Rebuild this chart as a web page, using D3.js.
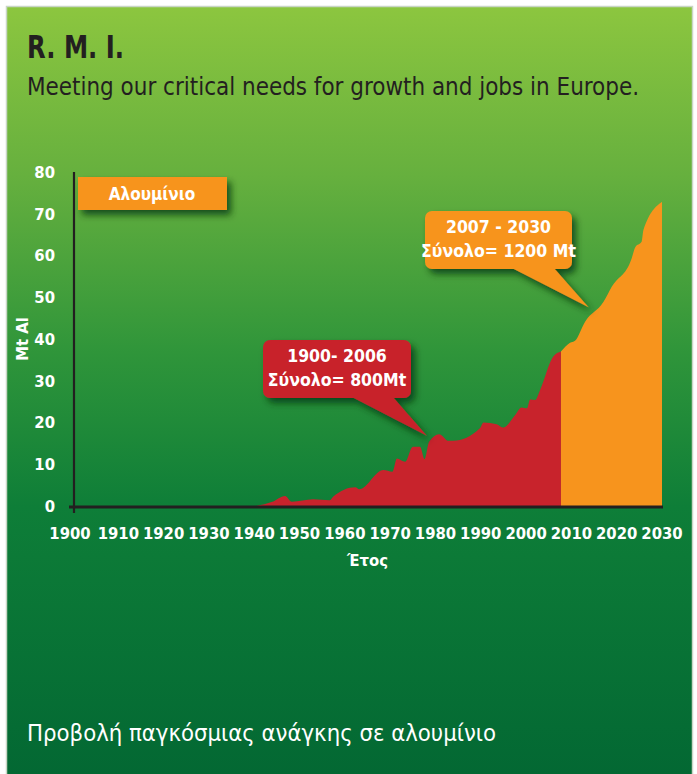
<!DOCTYPE html>
<html>
<head>
<meta charset="utf-8">
<script src="https://cdn.jsdelivr.net/npm/d3@7"></script>
<style>
  html, body { margin: 0; padding: 0; background: #ffffff; }
  svg text { font-family: "Liberation Sans Narrow", "DejaVu Sans Condensed", "Open Sans", sans-serif; }
</style>
</head>
<body>
<div id="chart"></div>
<script>
// Data (Mt Al per year)
const historyYears = [1940.5, 1944, 1946.8, 1948.3, 1953, 1956.7, 1957.4, 1962.3, 1963.2, 1968.5, 1970.5, 1971.5, 1973.3, 1975, 1976.6, 1977.6, 1978.6, 1980.8, 1982.9, 1983.9, 1989.8, 1990.6, 1993.5, 1995, 1997.6, 1999, 2000.2, 2000.9, 2002, 2003.1, 2006, 2007.7]
const historyValues = [0, 1.0, 2.4, 1.0, 1.6, 1.4, 2.2, 4.5, 4.0, 8.6, 8.2, 11.4, 10.6, 14.2, 14.2, 11.2, 15.4, 17.2, 15.6, 15.6, 18.6, 20.0, 19.6, 18.8, 21.8, 23.6, 23.4, 25.5, 25.4, 27.8, 35.8, 37.0]
const projectionYears = [2007.7, 2009.7, 2010.8, 2013, 2017.1, 2018.9, 2023.3, 2024.1, 2025.5, 2025.9, 2030]
const projectionValues = [37.0, 39.1, 39.6, 44.1, 48.9, 52.5, 59.3, 62.0, 63.3, 66.1, 72.9]

const xTicks = [1900, 1910, 1920, 1930, 1940, 1950, 1960, 1970, 1980, 1990, 2000, 2010, 2020, 2030]
const yTicks = [0, 10, 20, 30, 40, 50, 60, 70, 80]

const seriesName = 'Αλουμίνιο'
const calloutLines = [['1900- 2006', 'Σύνολο= 800Mt'], ['2007 - 2030', 'Σύνολο= 1200 Mt']]
const calloutTips = [[1978.1, 16.8], [2013.8, 47.6]]

// Chart size
const width = 697
const height = 774

const red = '#c8232c'
const orange = '#f7941d'
const ink = '#231f20'

let svg = d3.select('#chart')
	.append('svg')
	.attr('width', width)
	.attr('height', height)

let defs = svg.append('defs')
let grad = defs.append('linearGradient')
	.attr('id', 'bg')
	.attr('x1', 0).attr('y1', 0).attr('x2', 0).attr('y2', 1)
const stops = [[0, '#8cc63f'], [0.22, '#66b03e'], [0.45, '#2f953a'], [0.65, '#0e7e38'], [1, '#036833']]
stops.forEach((s) => {
	grad.append('stop').attr('offset', s[0]).attr('stop-color', s[1])
})
let shadow = defs.append('filter')
	.attr('id', 'shadow')
	.attr('x', '-20%').attr('y', '-20%').attr('width', '150%').attr('height', '160%')
shadow.append('feDropShadow')
	.attr('dx', 4).attr('dy', 5)
	.attr('stdDeviation', 3.5)
	.attr('flood-color', '#06300f')
	.attr('flood-opacity', 0.75)

// Panel
svg.append('rect')
	.attr('x', 6.5).attr('y', 6.5)
	.attr('width', 686).attr('height', 770)
	.attr('fill', 'url(#bg)')
	.attr('stroke', '#c9d6c6')
	.attr('stroke-width', 1.5)

// Titles
svg.append('text')
	.attr('x', 27).attr('y', 58)
	.attr('font-size', 32)
	.attr('font-weight', 'bold')
	.attr('fill', ink)
	.attr('textLength', 97)
	.attr('lengthAdjust', 'spacingAndGlyphs')
	.text('R. M. I.')
svg.append('text')
	.attr('x', 27).attr('y', 95)
	.attr('font-size', 24)
	.attr('fill', ink)
	.attr('textLength', 612)
	.attr('lengthAdjust', 'spacingAndGlyphs')
	.text('Meeting our critical needs for growth and jobs in Europe.')
svg.append('text')
	.attr('x', 27).attr('y', 741)
	.attr('font-size', 23)
	.attr('fill', '#ffffff')
	.attr('textLength', 469)
	.attr('lengthAdjust', 'spacingAndGlyphs')
	.text('Προβολή παγκόσμιας ανάγκης σε αλουμίνιο')

// Scales
let scaleX = d3.scaleLinear().domain([1900, 2030]).range([73, 662])
let scaleY = d3.scaleLinear().domain([0, 80]).range([506, 172])

// Areas
let area = d3.area()
	.x((d) => scaleX(d[0]))
	.y0(scaleY(0))
	.y1((d) => scaleY(d[1]))
	.curve(d3.curveMonotoneX)

let historyData = historyYears.map((y, i) => [y, historyValues[i]])
let projectionData = projectionYears.map((y, i) => [y, projectionValues[i]])

svg.append('path')
	.datum(historyData)
	.attr('d', area)
	.attr('fill', red)
svg.append('path')
	.datum(projectionData)
	.attr('d', area)
	.attr('fill', orange)

// Axes
svg.append('line')
	.attr('x1', 74).attr('x2', 74)
	.attr('y1', scaleY(80)).attr('y2', 513)
	.attr('stroke', ink).attr('stroke-width', 2.2)
svg.append('line')
	.attr('x1', 69).attr('x2', scaleX(2030) + 1)
	.attr('y1', scaleY(0) + 1).attr('y2', scaleY(0) + 1)
	.attr('stroke', ink).attr('stroke-width', 3)

svg.selectAll('.ylab')
	.data(yTicks)
	.enter()
	.append('text')
	.attr('class', 'ylab')
	.attr('x', 55)
	.attr('y', (d) => scaleY(d))
	.attr('dy', '0.36em')
	.attr('text-anchor', 'end')
	.attr('font-size', 16.5)
	.attr('font-weight', 'bold')
	.attr('fill', '#ffffff')
	.text((d) => d)

svg.selectAll('.xlab')
	.data(xTicks)
	.enter()
	.append('text')
	.attr('class', 'xlab')
	.attr('x', (d) => scaleX(d) - (d === 1900 ? 3 : 0))
	.attr('y', 539)
	.attr('text-anchor', 'middle')
	.attr('font-size', 16.5)
	.attr('font-weight', 'bold')
	.attr('fill', '#ffffff')
	.text((d) => d)

svg.append('text')
	.attr('x', (scaleX(1900) + scaleX(2030)) / 2)
	.attr('y', 566)
	.attr('text-anchor', 'middle')
	.attr('font-size', 16.5)
	.attr('font-weight', 'bold')
	.attr('fill', '#ffffff')
	.text('Έτος')

svg.append('text')
	.attr('transform', 'translate(22,' + scaleY(40) + ') rotate(-90)')
	.attr('dy', '0.36em')
	.attr('text-anchor', 'middle')
	.attr('font-size', 16.5)
	.attr('font-weight', 'bold')
	.attr('fill', '#ffffff')
	.text('Mt Al')

// Legend box
let legend = svg.append('g').attr('filter', 'url(#shadow)')
legend.append('rect')
	.attr('x', 78).attr('y', 177)
	.attr('width', 149).attr('height', 33)
	.attr('fill', orange)
svg.append('text')
	.attr('x', 152).attr('y', 200)
	.attr('text-anchor', 'middle')
	.attr('font-size', 17)
	.attr('font-weight', 'bold')
	.attr('fill', '#ffffff')
	.text(seriesName)

// Callouts: box + tail pointing at the curve
const calloutBoxes = [
	{ x: 263, y: 340, w: 148, h: 58, color: red, tail: [350, 392] },
	{ x: 425, y: 211, w: 147, h: 58, color: orange, tail: [510, 553] }
]
calloutBoxes.forEach((b, i) => {
	let g = svg.append('g').attr('filter', 'url(#shadow)')
	let tipX = scaleX(calloutTips[i][0])
	let tipY = scaleY(calloutTips[i][1])
	g.append('path')
		.attr('d', 'M' + b.tail[0] + ',' + (b.y + b.h - 2) + 'L' + tipX + ',' + tipY + 'L' + b.tail[1] + ',' + (b.y + b.h - 2) + 'Z')
		.attr('fill', b.color)
	g.append('rect')
		.attr('x', b.x).attr('y', b.y)
		.attr('width', b.w).attr('height', b.h)
		.attr('rx', 7)
		.attr('fill', b.color)
	svg.append('text')
		.attr('x', b.x + b.w / 2).attr('y', b.y + 22)
		.attr('text-anchor', 'middle')
		.attr('font-size', 17.5)
		.attr('font-weight', 'bold')
		.attr('fill', '#ffffff')
		.text(calloutLines[i][0])
	svg.append('text')
		.attr('x', b.x + b.w / 2).attr('y', b.y + 46)
		.attr('text-anchor', 'middle')
		.attr('font-size', 17.5)
		.attr('font-weight', 'bold')
		.attr('fill', '#ffffff')
		.text(calloutLines[i][1])
})
</script>
</body>
</html>
